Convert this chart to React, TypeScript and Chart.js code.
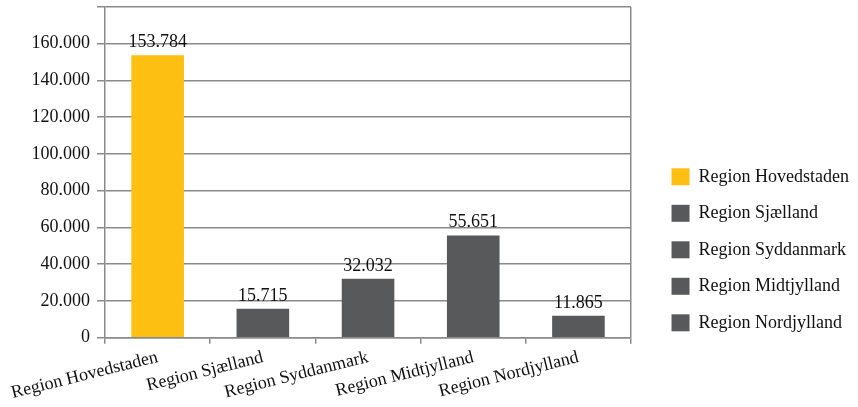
import React, { useEffect, useRef } from "react";
import { Chart, registerables } from "chart.js";

Chart.register(...registerables);

const categories = [
  "Region Hovedstaden",
  "Region Sjælland",
  "Region Syddanmark",
  "Region Midtjylland",
  "Region Nordjylland",
];
const values = [153784, 15715, 32032, 55651, 11865];
const barColors = ["#FCBF12", "#58595B", "#58595B", "#58595B", "#58595B"];
const yTicks = [0, 20000, 40000, 60000, 80000, 100000, 120000, 140000, 160000, 180000];
const yMax = 180000;

const FONT = "'Liberation Serif', 'DejaVu Serif', serif";
const FS = 18;
const GRID = "#8a8a8a";
const LEGEND_SHIFT = 22;

function fmt(v: number): string {
  return String(Math.round(v)).replace(/\B(?=(\d{3})+(?!\d))/g, ".");
}

const valueLabels = {
  id: "valueLabels",
  afterLayout(chart: any) {
    if (chart.legend) {
      chart.legend.left += LEGEND_SHIFT;
      chart.legend.right += LEGEND_SHIFT;
    }
  },
  afterDatasetsDraw(chart: any) {
    const ctx = chart.ctx;
    const meta = chart.getDatasetMeta(0);
    ctx.save();
    ctx.font = `${FS}px ${FONT}`;
    ctx.fillStyle = "#111";
    ctx.textAlign = "center";
    ctx.textBaseline = "alphabetic";
    meta.data.forEach((bar: any, i: number) => {
      ctx.fillText(fmt(values[i]), bar.x, bar.y - 8);
    });
    ctx.restore();
  },
};

export default function App() {
  const ref = useRef<HTMLCanvasElement | null>(null);
  useEffect(() => {
    if (!ref.current) return;
    const chart = new Chart(ref.current, {
      type: "bar",
      data: {
        labels: categories,
        datasets: [
          {
            data: values,
            backgroundColor: barColors,
            borderWidth: 0,
            barPercentage: 0.5,
            categoryPercentage: 1,
          },
        ],
      },
      plugins: [valueLabels],
      options: {
        animation: false,
        responsive: true,
        maintainAspectRatio: false,
        layout: { padding: { top: 7, right: 21, left: 6, bottom: 0 } },
        plugins: {
          tooltip: { enabled: false },
          legend: {
            display: true,
            position: "right",
            align: "center",
            title: {
              display: true,
              text: " ",
              padding: { top: 64, bottom: 0 },
              font: { family: FONT, size: FS },
            },
            labels: {
              font: { family: FONT, size: FS },
              color: "#111",
              boxWidth: 18,
              boxHeight: 17,
              padding: 18.5,
              generateLabels: () =>
                categories.map((c, i) => ({
                  text: c,
                  fillStyle: barColors[i],
                  strokeStyle: barColors[i],
                  fontColor: "#111",
                  lineWidth: 0,
                  hidden: false,
                  index: i,
                  datasetIndex: 0,
                })),
            },
          },
        },
        scales: {
          x: {
            offset: true,
            grid: {
              offset: true,
              drawOnChartArea: true,
              drawTicks: true,
              tickLength: 6,
              color: (c: any) => (c.tick ? "transparent" : GRID),
              tickColor: GRID,
              lineWidth: 1.5,
            },
            border: { display: true, color: GRID, width: 1.5 },
            ticks: {
              font: { family: FONT, size: FS },
              color: "#111",
              minRotation: 14,
              maxRotation: 14,
              padding: 3,
            },
          },
          y: {
            min: 0,
            max: yMax,
            afterBuildTicks: (scale: any) => {
              scale.ticks = yTicks.map((v) => ({ value: v }));
            },
            afterFit: (scale: any) => {
              scale.paddingTop = 0;
            },
            grid: {
              color: GRID,
              lineWidth: 1.5,
              drawTicks: true,
              tickLength: 8,
            },
            border: { display: true, color: GRID, width: 1.5 },
            ticks: {
              font: { family: FONT, size: FS },
              color: "#111",
              padding: 7,
              callback: (v: any) => (Number(v) === yMax ? "" : fmt(Number(v))),
            },
          },
        },
      },
    });
    return () => chart.destroy();
  }, []);
  return (
    <div style={{ position: "fixed", left: 0, top: 0, width: 858, height: 407, background: "#fff" }}>
      <canvas ref={ref} />
    </div>
  );
}
